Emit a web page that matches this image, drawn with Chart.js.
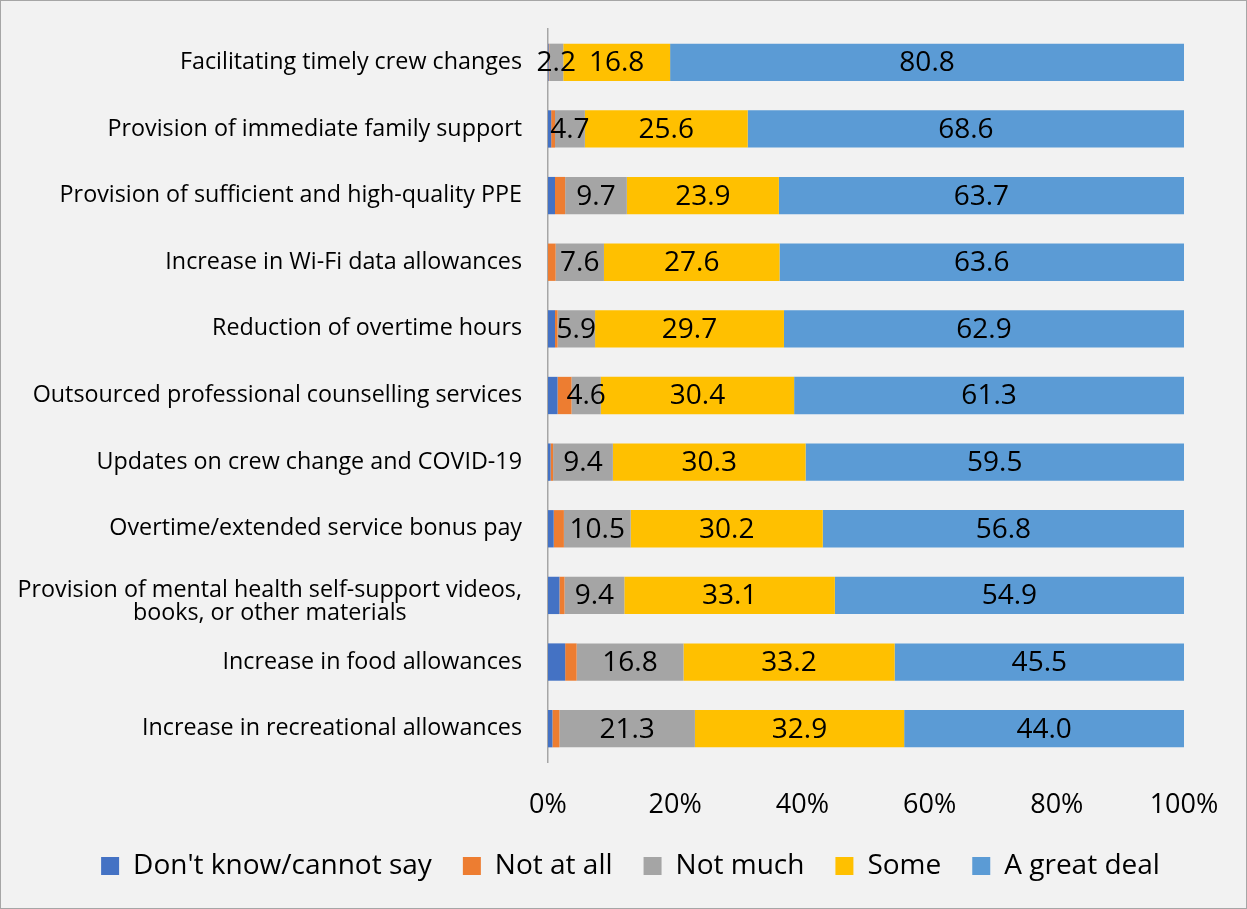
<!DOCTYPE html>
<html>
<head>
<meta charset="utf-8">
<script src="https://cdn.jsdelivr.net/npm/chart.js@4.4.0/dist/chart.umd.min.js"></script>
<style>
html, body { margin: 0; padding: 0; background: #f2f2f2; }
#wrap { width: 1245px; height: 907px; border: 1px solid #a6a6a6; background: #f2f2f2; }
</style>
</head>
<body>
<div id="wrap"><canvas id="myChart"></canvas></div>
<script>
// data (percent of respondents)
const categories = [
  "Facilitating timely crew changes",
  "Provision of immediate family support",
  "Provision of sufficient and high-quality PPE",
  "Increase in Wi-Fi data allowances",
  "Reduction of overtime hours",
  "Outsourced professional counselling services",
  "Updates on crew change and COVID-19",
  "Overtime/extended service bonus pay",
  ["Provision of mental health self-support videos,", "books, or other materials"],
  "Increase in food allowances",
  "Increase in recreational allowances"
];
const dontKnow   = [0.1, 0.5, 1.1, 0.0, 1.1, 1.5, 0.4, 0.9, 1.8, 2.7, 0.7];
const notAtAll   = [0.1, 0.6, 1.6, 1.2, 0.4, 2.2, 0.4, 1.6, 0.8, 1.8, 1.1];
const notMuch    = [2.2, 4.7, 9.7, 7.6, 5.9, 4.6, 9.4, 10.5, 9.4, 16.8, 21.3];
const some       = [16.8, 25.6, 23.9, 27.6, 29.7, 30.4, 30.3, 30.2, 33.1, 33.2, 32.9];
const greatDeal  = [80.8, 68.6, 63.7, 63.6, 62.9, 61.3, 59.5, 56.8, 54.9, 45.5, 44.0];
const xTicks = [0, 20, 40, 60, 80, 100];

const FONT = "'Open Sans'";

// value labels inside the bars
const barLabels = {
  id: "barLabels",
  afterDatasetsDraw(chart) {
    const ctx = chart.ctx
    ctx.save()
    ctx.font = "28px " + FONT
    ctx.fillStyle = "#000"
    ctx.textAlign = "center"
    ctx.textBaseline = "middle"
    chart.data.datasets.forEach((ds, i) => {
      if (!ds.showValue) return
      chart.getDatasetMeta(i).data.forEach((bar, j) => {
        ctx.fillText(ds.data[j].toFixed(1), (bar.x + bar.base) / 2, bar.y + 1)
      })
    })
    ctx.restore()
  }
}

// category labels: block right-aligned, lines centred inside the block
const catLabels = {
  id: "catLabels",
  afterDraw(chart) {
    const ctx = chart.ctx
    const y = chart.scales.y
    const right = chart.chartArea.left - 26
    ctx.save()
    ctx.font = "23.3px " + FONT
    ctx.fillStyle = "#000"
    ctx.textBaseline = "middle"
    categories.forEach((lab, i) => {
      const cy = y.getPixelForTick(i)
      if (Array.isArray(lab)) {
        const w = Math.max(...lab.map(t => ctx.measureText(t).width))
        ctx.textAlign = "center"
        const lh = 23
        lab.forEach((t, k) => {
          ctx.fillText(t, right - w / 2, cy + (k - (lab.length - 1) / 2) * lh + 6)
        })
      } else {
        ctx.textAlign = "right"
        ctx.fillText(lab, right, cy)
      }
    })
    ctx.restore()
  }
}

// nudge the legend a bit to the right, like the original
const legendShift = {
  id: "legendShift",
  afterLayout(chart) {
    chart.legend.left += 34
    chart.legend.right += 34
  }
}

new Chart("myChart", {
  type: "bar",
  data: {
    labels: categories,
    datasets: [
      { label: "Don't know/cannot say", data: dontKnow, backgroundColor: "#4472c4" },
      { label: "Not at all", data: notAtAll, backgroundColor: "#ed7d31" },
      { label: "Not much", data: notMuch, backgroundColor: "#a5a5a5", showValue: true },
      { label: "Some", data: some, backgroundColor: "#ffc000", showValue: true },
      { label: "A great deal", data: greatDeal, backgroundColor: "#5b9bd5", showValue: true }
    ]
  },
  options: {
    indexAxis: "y",
    responsive: true,
    maintainAspectRatio: false,
    animation: false,
    datasets: { bar: { barPercentage: 0.56, categoryPercentage: 1 } },
    layout: { padding: { left: 8, right: 62, top: 28, bottom: 18 } },
    scales: {
      x: {
        stacked: true,
        min: 0,
        max: 100,
        grid: { display: false, drawTicks: false },
        border: { display: false },
        afterBuildTicks: s => { s.ticks = xTicks.map(v => ({ value: v })) },
        afterFit: s => { s.height = 59 },
        ticks: {
          padding: 27,
          color: "#000",
          font: { family: FONT, size: 27 },
          callback: v => v + "%"
        }
      },
      y: {
        stacked: true,
        grid: { display: false, drawTicks: false },
        border: { display: true, color: "#a6a6a6", width: 1.5 },
        afterFit: s => { s.width = 539 },
        ticks: { display: false }
      }
    },
    plugins: {
      legend: {
        position: "bottom",
        labels: {
          boxWidth: 18,
          boxHeight: 18,
          padding: 31,
          color: "#000",
          font: { family: FONT, size: 28 }
        }
      },
      tooltip: { enabled: false }
    }
  },
  plugins: [barLabels, catLabels, legendShift]
});
</script>
</body>
</html>
